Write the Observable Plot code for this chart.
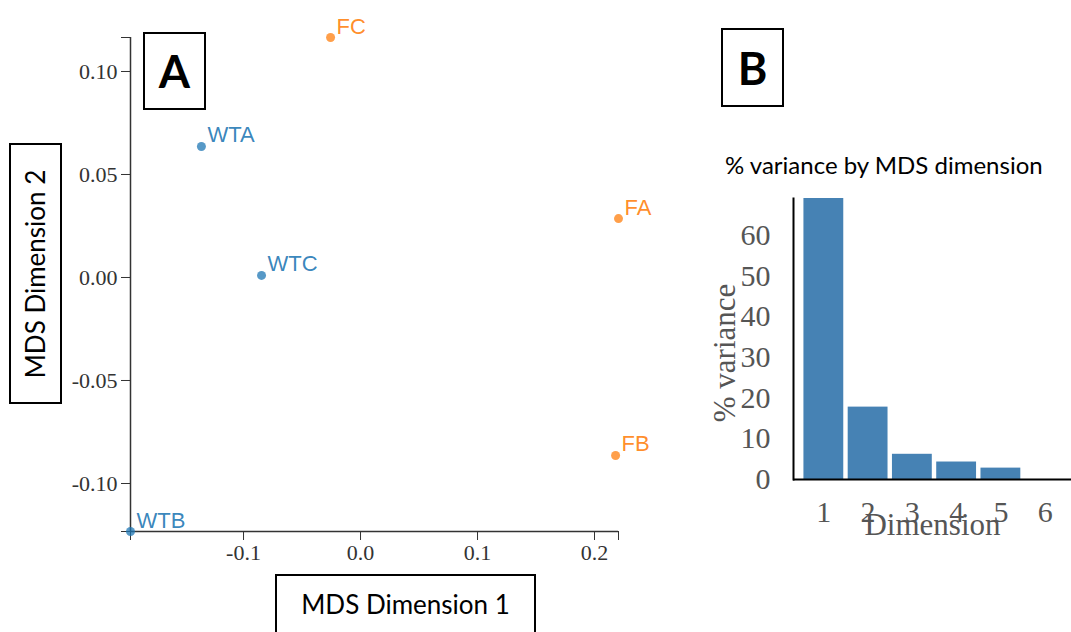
<!DOCTYPE html>
<html>
<head>
<meta charset="utf-8">
<script src="https://cdn.jsdelivr.net/npm/d3@7"></script>
<script src="https://cdn.jsdelivr.net/npm/@observablehq/plot@0.6"></script>
<style>
  html, body { margin: 0; padding: 0; background: #fff; }
  #wrap { position: relative; width: 1071px; height: 632px; overflow: hidden; background: #fff; }
  .box { position: absolute; border: 2px solid #000; box-sizing: border-box; background: #fff;
         display: flex; align-items: center; justify-content: center; font-family: Lato, "Noto Sans", sans-serif; color: #000; }
  .letter { font-weight: 700; font-size: 45px; }
  .lab { font-size: 26px; white-space: nowrap; }
  #title { position: absolute; left: 725px; top: 150px; font-family: Lato, "Noto Sans", sans-serif; font-size: 24px; color: #000; white-space: nowrap; }
</style>
</head>
<body>
<div id="wrap"></div>
<script>
// ---- Panel A data (MDS coordinates) ----
const samples = ["WTA", "WTB", "WTC", "FA", "FB", "FC"];
const dim1 = [-0.136, -0.1966, -0.0846, 0.2205, 0.218, -0.0256];
const dim2 = [0.0636, -0.1233, 0.001, 0.0286, -0.0864, 0.1165];
const groups = ["WT", "WT", "WT", "F", "F", "F"];
const xTicksA = [-0.1, 0.0, 0.1, 0.2];
const yTicksA = [-0.10, -0.05, 0.00, 0.05, 0.10];

// ---- Panel B data (% variance) ----
const dims = [1, 2, 3, 4, 5, 6];
const variance = [69.1, 17.8, 6.2, 4.3, 2.8, 0];
const yTicksB = [0, 10, 20, 30, 40, 50, 60];

const wrap = document.getElementById("wrap");
const serif = "'Liberation Serif', 'Times New Roman', serif";

const pts = samples.map((s, i) => ({sample: s, x: dim1[i], y: dim2[i], group: groups[i]}));

const plotA = Plot.plot({
  width: 680, height: 580,
  marginLeft: 130, marginTop: 37, marginRight: 62, marginBottom: 49,
  x: {domain: d3.extent(dim1)},
  y: {domain: d3.extent(dim2)},
  color: {domain: ["WT", "F"], range: ["#1f77b4", "#ff7f0e"]},
  style: {fontFamily: serif, fontSize: "22px", color: "#333", background: "transparent", overflow: "visible"},
  marks: [
    Plot.ruleX([d3.min(dim1)], {stroke: "#333", strokeWidth: 1.5}),
    Plot.ruleY([d3.min(dim2)], {stroke: "#333", strokeWidth: 1.5}),
    Plot.axisY({ticks: yTicksA, tickFormat: d => d.toFixed(2), tickSize: 9, tickPadding: 4, label: null, stroke: "#333", fill: "#333", fontSize: 22}),
    Plot.axisY({ticks: d3.extent(dim2), tickFormat: () => "", tickSize: 9, label: null, stroke: "#333"}),
    Plot.axisX({ticks: xTicksA, tickFormat: d => d.toFixed(1), tickSize: 9, tickPadding: 4, label: null, stroke: "#333", fill: "#333", fontSize: 22}),
    Plot.axisX({ticks: d3.extent(dim1), tickFormat: () => "", tickSize: 9, label: null, stroke: "#333"}),
    Plot.dot(pts, {x: "x", y: "y", r: 4.5, fill: "group", fillOpacity: 0.75}),
    Plot.text(pts, {x: "x", y: "y", text: "sample", fill: "group", fillOpacity: 0.9,
      textAnchor: "start", lineAnchor: "bottom", dx: 6, dy: -4,
      fontFamily: "'Liberation Sans', Arial, sans-serif", fontSize: 22})
  ]
});
plotA.style.position = "absolute";
plotA.style.left = "0px";
plotA.style.top = "0px";
wrap.appendChild(plotA);

const bars = dims.map((d, i) => ({dim: d, v: variance[i]}));
const plotB = Plot.plot({
  width: 391, height: 482,
  marginLeft: 113, marginTop: 48, marginRight: 0, marginBottom: 153,
  x: {type: "band", domain: dims, padding: 0.1, insetLeft: 6, insetRight: 2, round: false},
  y: {domain: [0, d3.max(variance)]},
  style: {fontFamily: serif, fontSize: "30px", color: "#555", background: "transparent", overflow: "visible"},
  marks: [
    Plot.barY(bars, {x: "dim", y: "v", fill: "steelblue"}),
    Plot.frame({anchor: "left", stroke: "#000", strokeWidth: 2}),
    Plot.ruleY([0], {stroke: "#000", strokeWidth: 2}),
    Plot.axisY({ticks: yTicksB, tickSize: 0, tickPadding: 23, label: null, fill: "#555", fontSize: 30}),
    Plot.axisX({tickSize: 0, tickPadding: 21, label: null, fill: "#555", fontSize: 30}),
    Plot.text(["% variance"], {frameAnchor: "left", rotate: -90, dx: -59, dy: 14, lineAnchor: "bottom",
      textAnchor: "middle", fill: "#555", fontSize: 31, fontFamily: serif}),
    Plot.text(["Dimension"], {frameAnchor: "bottom", dy: 55, lineAnchor: "bottom",
      textAnchor: "middle", fill: "#555", fontSize: 31, fontFamily: serif})
  ]
});
plotB.style.position = "absolute";
plotB.style.left = "680px";
plotB.style.top = "150px";
wrap.appendChild(plotB);

function box(left, top, w, h, txt, cls, rotate) {
  const b = document.createElement("div");
  b.className = "box";
  b.style.left = left + "px"; b.style.top = top + "px";
  b.style.width = w + "px"; b.style.height = h + "px";
  const s = document.createElement("span");
  s.className = cls;
  s.textContent = txt;
  if (rotate) { s.style.transform = "rotate(-90deg)"; s.style.display = "inline-block"; }
  b.appendChild(s);
  wrap.appendChild(b);
}
box(143, 32, 63, 78, "A", "letter");
box(721, 28, 63, 79, "B", "letter");
box(9, 143, 53, 261, "MDS Dimension 2", "lab", true);
box(275, 574, 261, 60, "MDS Dimension 1", "lab");

const t = document.createElement("div");
t.id = "title";
t.textContent = "% variance by MDS dimension";
wrap.appendChild(t);
</script>
</body>
</html>
